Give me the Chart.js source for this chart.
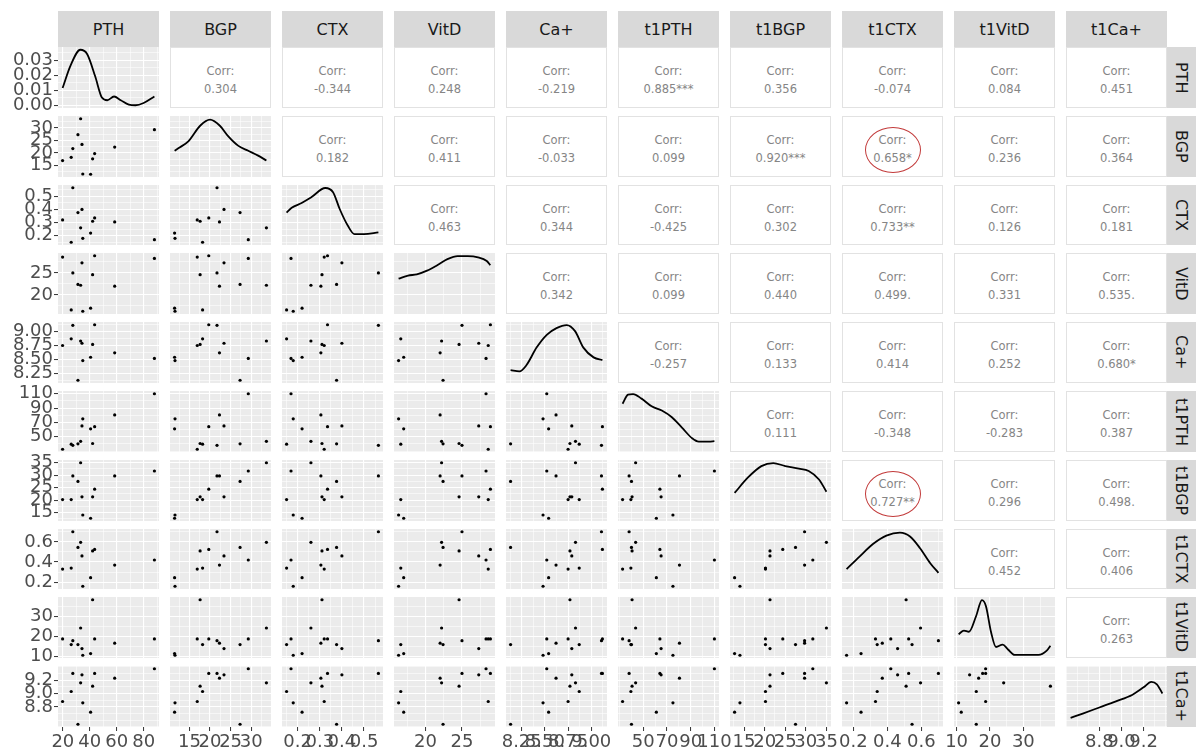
<!DOCTYPE html>
<html>
<head>
<meta charset="utf-8">
<script src="https://cdn.jsdelivr.net/npm/chart.js@4.4.1/dist/chart.umd.min.js"></script>
<style>
body { margin: 0; background: #fff; }
#wrap { position: relative; width: 1196px; height: 751px; overflow: hidden; font-family: "DejaVu Sans", "Liberation Sans", Arial, sans-serif; }
.strip { position: absolute; background: #d9d9d9; color: #1a1a1a; font-size: 16px; display: flex; align-items: center; justify-content: center; }
.strip.side { writing-mode: vertical-rl; }
.corr { position: absolute; background: #fff; border: 1px solid #e2e2e2; box-sizing: border-box; color: #858585; font-size: 11.5px; text-align: center; line-height: 18px; display: flex; flex-direction: column; justify-content: center; padding-top: 5px; }
.ring { position: absolute; border: 1.5px solid #c23a3a; border-radius: 50%; box-sizing: border-box; }
</style>
</head>
<body>
<div id="wrap"></div>
<script>
const FONT = '"DejaVu Sans", "Liberation Sans", Arial, sans-serif';

const varNames = ['PTH', 'BGP', 'CTX', 'VitD', 'Ca+', 't1PTH', 't1BGP', 't1CTX', 't1VitD', 't1Ca+'];

// one value per subject, same subject order in every array
const PTH    = [19.8, 26.2, 27.4, 31.2, 33.2, 34.2, 34.8, 40.6, 42.1, 43.6, 58.5, 88];
const BGP    = [16.9, 18.2, 21.7, 27.3, 33.7, 23.4, 11.5, 11.4, 17.6, 19.7, 22.3, 29.3];
const CTX    = [0.32, 0.15, 0.565, 0.376, 0.26, 0.40, 0.18, 0.22, 0.31, 0.335, 0.305, 0.17];
const VitD   = [28.6, 16.6, 25.0, 22.4, 22.2, 27.3, 16.3, 17.0, 24.6, 28.9, 22.0, 28.3];
const Ca     = [8.75, 8.87, 9.11, 8.13, 8.83, 8.79, 8.48, 8.54, 8.77, 9.12, 8.62, 8.52];
const t1PTH  = [32.5, 39.5, 38, 40, 43.5, 65, 75, 61, 40.5, 64, 80.5, 110];
const t1BGP  = [20.2, 20.2, 29.7, 27.5, 35, 21.3, 14, 12.7, 21.3, 24.4, 29.7, 31.7];
const t1CTX  = [0.33, 0.34, 0.70, 0.545, 0.595, 0.46, 0.16, 0.245, 0.51, 0.525, 0.37, 0.42];
const t1VitD = [18.7, 15.9, 17.8, 15.9, 24.1, 13.9, 10.6, 11.4, 38.1, 18.7, 16.6, 18.7];
const t1Ca   = [8.88, 9.03, 9.3, 8.54, 9.16, 9.28, 8.86, 8.72, 9.11, 9.3, 9.23, 9.37];

// axis breaks and their labels
const tickPTH = [20, 40, 60, 80];          const labPTH = ['20', '40', '60', '80'];
const tickBGP = [15, 20, 25, 30];          const labBGP = ['15', '20', '25', '30'];
const tickCTX = [0.2, 0.3, 0.4, 0.5];      const labCTX = ['0.2', '0.3', '0.4', '0.5'];
const tickVitD = [20, 25];                 const labVitD = ['20', '25'];
const tickCa = [8.25, 8.5, 8.75, 9.0];     const labCa = ['8.25', '8.50', '8.75', '9.00'];
const tickT1PTH = [50, 70, 90, 110];       const labT1PTH = ['50', '70', '90', '110'];
const tickT1BGP = [15, 20, 25, 30, 35];    const labT1BGP = ['15', '20', '25', '30', '35'];
const tickT1CTX = [0.2, 0.4, 0.6];         const labT1CTX = ['0.2', '0.4', '0.6'];
const tickT1VitD = [10, 20, 30];           const labT1VitD = ['10', '20', '30'];
const tickT1Ca = [8.8, 9.0, 9.2];          const labT1Ca = ['8.8', '9.0', '9.2'];
const tickDens = [0, 0.01, 0.02, 0.03];    const labDens = ['0.00', '0.01', '0.02', '0.03'];

// diagonal density curves; PTH in density units, the others as share of panel height
const densPTHx = [19.8, 25.7, 33, 38, 44, 49, 53, 58, 63, 69, 74, 80, 88];
const densPTHy = [0.0116, 0.0265, 0.037, 0.0342, 0.0194, 0.0053, 0.0035, 0.006, 0.0035, 0.0006, 0.0002, 0.0017, 0.006];
const densBGPx = [11.4, 12.3, 14.8, 17.6, 20, 22.4, 24.4, 26.9, 29.3, 31.7, 33.7];
const densBGPy = [0.43, 0.47, 0.59, 0.84, 0.94, 0.84, 0.67, 0.51, 0.43, 0.35, 0.27];
const densCTXx = [0.15, 0.173, 0.218, 0.263, 0.325, 0.36, 0.39, 0.427, 0.457, 0.5, 0.565];
const densCTXy = [0.54, 0.62, 0.70, 0.80, 0.95, 0.88, 0.6, 0.32, 0.18, 0.18, 0.21];
const densVitDx = [16.3, 17.6, 18.8, 20.2, 21.6, 23, 24.4, 25.8, 27.2, 28.4, 28.9];
const densVitDy = [0.58, 0.63, 0.65, 0.71, 0.8, 0.9, 0.95, 0.95, 0.93, 0.87, 0.8];
const densCax = [8.13, 8.225, 8.3, 8.41, 8.52, 8.625, 8.735, 8.825, 8.915, 9.025, 9.12];
const densCay = [0.21, 0.19, 0.29, 0.58, 0.79, 0.9, 0.95, 0.85, 0.58, 0.42, 0.375];
const densT1PTHx = [32.5, 37.1, 41.4, 48.5, 57, 65.6, 74.1, 82.6, 91.2, 96.8, 105.4, 110];
const densT1PTHy = [0.79, 0.94, 0.95, 0.875, 0.75, 0.68, 0.57, 0.4, 0.225, 0.17, 0.17, 0.18];
const densT1BGPx = [12.7, 15.9, 19.2, 22.1, 25, 28.3, 30.7, 33.2, 35];
const densT1BGPy = [0.46, 0.71, 0.9, 0.95, 0.9, 0.86, 0.82, 0.68, 0.48];
const densT1CTXx = [0.16, 0.236, 0.315, 0.394, 0.474, 0.533, 0.592, 0.652, 0.70];
const densT1CTXy = [0.33, 0.54, 0.75, 0.89, 0.94, 0.875, 0.68, 0.43, 0.27];
const densT1VitDx = [10.6, 12.2, 13.7, 15.8, 17.6, 18.8, 20.3, 21.8, 23.8, 25.4, 27.4, 30.9, 34.5, 37, 38.1];
const densT1VitDy = [0.39, 0.45, 0.43, 0.68, 0.95, 0.85, 0.43, 0.18, 0.22, 0.14, 0.05, 0.05, 0.05, 0.12, 0.2];
const densT1Cax = [8.54, 8.65, 8.8, 8.95, 9.1, 9.2, 9.27, 9.32, 9.37];
const densT1Cay = [0.15, 0.22, 0.32, 0.42, 0.53, 0.65, 0.74, 0.7, 0.55];

// upper triangle, row by row (columns to the right of the diagonal)
const corrPTH = ['0.304', '-0.344', '0.248', '-0.219', '0.885***', '0.356', '-0.074', '0.084', '0.451'];
const corrBGP = ['0.182', '0.411', '-0.033', '0.099', '0.920***', '0.658*', '0.236', '0.364'];
const corrCTX = ['0.463', '0.344', '-0.425', '0.302', '0.733**', '0.126', '0.181'];
const corrVitD = ['0.342', '0.099', '0.440', '0.499.', '0.331', '0.535.'];
const corrCa = ['-0.257', '0.133', '0.414', '0.252', '0.680*'];
const corrT1PTH = ['0.111', '-0.348', '-0.283', '0.387'];
const corrT1BGP = ['0.727**', '0.296', '0.498.'];
const corrT1CTX = ['0.452', '0.406'];
const corrT1VitD = ['0.263'];
const circled = [[1, 7], [6, 7]];

const values = [PTH, BGP, CTX, VitD, Ca, t1PTH, t1BGP, t1CTX, t1VitD, t1Ca];
const ticks = [tickPTH, tickBGP, tickCTX, tickVitD, tickCa, tickT1PTH, tickT1BGP, tickT1CTX, tickT1VitD, tickT1Ca];
const labels = [labPTH, labBGP, labCTX, labVitD, labCa, labT1PTH, labT1BGP, labT1CTX, labT1VitD, labT1Ca];
const densX = [densPTHx, densBGPx, densCTXx, densVitDx, densCax, densT1PTHx, densT1BGPx, densT1CTXx, densT1VitDx, densT1Cax];
const densY = [densPTHy, densBGPy, densCTXy, densVitDy, densCay, densT1PTHy, densT1BGPy, densT1CTXy, densT1VitDy, densT1Cay];
const corrRows = [corrPTH, corrBGP, corrCTX, corrVitD, corrCa, corrT1PTH, corrT1BGP, corrT1CTX, corrT1VitD];

// layout
const X0 = 58, PITCH_X = 112, PW = 101;
const Y0 = 47, PITCH_Y = 68.8, PH = 60.8;
const colX = i => Math.round(X0 + i * PITCH_X);
const rowY = i => Math.round(Y0 + i * PITCH_Y);
const rowB = i => Math.round(Y0 + i * PITCH_Y + PH);

function expand(arr) {
  const lo = Math.min(...arr), hi = Math.max(...arr), d = (hi - lo) * 0.05;
  return [lo - d, hi + d];
}
const ranges = values.map(expand);
const densRange = expand(densPTHy);

function gridValues(major, range) {
  const step = (major[1] - major[0]) / 2;
  const out = [];
  let k = Math.ceil((range[0] - major[0]) / step - 1e-9);
  for (;; k++) {
    const v = +(major[0] + k * step).toFixed(6);
    if (v > range[1]) break;
    out.push(v);
  }
  return out;
}

function axisCfg(major, labs, range, pos, show, size) {
  const idx = v => major.findIndex(m => Math.abs(m - v) < 1e-6);
  const vals = gridValues(major, range);
  return {
    type: 'linear',
    position: pos,
    min: range[0],
    max: range[1],
    afterBuildTicks: s => { s.ticks = vals.map(v => ({ value: v })); },
    afterFit: s => {
      if (pos === 'left') s.width = size; else s.height = size;
      s.paddingLeft = 0; s.paddingRight = 0; s.paddingTop = 0; s.paddingBottom = 0;
    },
    border: { display: false },
    grid: {
      color: '#ffffff',
      lineWidth: c => (c.tick && idx(c.tick.value) >= 0) ? 1.1 : 0.55,
      drawTicks: show,
      tickLength: 4,
      tickWidth: 1,
      tickColor: c => (c.tick && idx(c.tick.value) >= 0) ? '#333333' : 'rgba(0,0,0,0)'
    },
    ticks: {
      display: show,
      autoSkip: false,
      maxRotation: 0,
      minRotation: 0,
      padding: 1,
      color: '#4d4d4d',
      font: { family: FONT, size: 18 },
      callback: v => { const i = idx(v); return i >= 0 ? labs[i] : ''; }
    }
  };
}

const panelBg = {
  id: 'panelBg',
  beforeDraw(chart) {
    const a = chart.chartArea, ctx = chart.ctx;
    ctx.save();
    ctx.fillStyle = '#ebebeb';
    ctx.fillRect(a.left, a.top, a.right - a.left, a.bottom - a.top);
    ctx.restore();
  }
};

const wrap = document.getElementById('wrap');

function drawPanel(r, c) {
  // extra room round the panel so edge tick labels are not cut off
  const padT = c === 0 ? 12 : 0;
  const padB = (c === 0 && r !== 9) ? 12 : 0;
  const padL = (r === 9 && c !== 0) ? 14 : 0;
  const padR = r === 9 ? 14 : 0;
  const left = (c === 0 ? 0 : colX(c)) - padL;
  const top = rowY(r) - padT;
  const w = colX(c) + PW + padR - left;
  const bottom = r === 9 ? 751 : rowB(r) + padB;
  const h = bottom - top;
  const cv = document.createElement('canvas');
  cv.width = w; cv.height = h;
  cv.style.cssText = `position:absolute;left:${left}px;top:${top}px;width:${w}px;height:${h}px`;
  wrap.appendChild(cv);

  const scales = {
    x: axisCfg(ticks[c], labels[c], ranges[c], 'bottom', r === 9, r === 9 ? 751 - rowB(9) : 0)
  };
  let datasets;
  if (r === c) {
    const pts = densX[c].map((x, i) => ({ x: x, y: densY[c][i] }));
    if (r === 0) {
      scales.y = axisCfg(tickDens, labDens, densRange, 'left', true, colX(0));
    } else {
      scales.y = axisCfg(ticks[r], labels[r], ranges[r], 'left', c === 0, c === 0 ? colX(0) : 0);
      scales.yd = { type: 'linear', display: false, min: 0, max: 1 };
    }
    datasets = [{
      data: pts,
      yAxisID: r === 0 ? 'y' : 'yd',
      showLine: true,
      pointRadius: 0,
      borderColor: '#000000',
      borderWidth: 1.8,
      cubicInterpolationMode: 'monotone'
    }];
  } else {
    scales.y = axisCfg(ticks[r], labels[r], ranges[r], 'left', c === 0, c === 0 ? colX(0) : 0);
    datasets = [{
      data: values[c].map((x, i) => ({ x: x, y: values[r][i] })),
      pointRadius: 1.6,
      backgroundColor: '#000000',
      borderWidth: 0
    }];
  }

  new Chart(cv.getContext('2d'), {
    type: 'scatter',
    data: { datasets: datasets },
    options: {
      responsive: false,
      animation: false,
      events: [],
      layout: { padding: { left: padL, right: padR, top: padT, bottom: padB }, autoPadding: false },
      plugins: { legend: { display: false }, tooltip: { enabled: false } },
      scales: scales
    },
    plugins: [panelBg]
  });
}

function drawCorr(r, c) {
  const d = document.createElement('div');
  d.className = 'corr';
  d.style.left = colX(c) + 'px';
  d.style.top = rowY(r) + 'px';
  d.style.width = PW + 'px';
  d.style.height = (rowB(r) - rowY(r)) + 'px';
  d.innerHTML = '<div>Corr:</div><div>' + corrRows[r][c - r - 1] + '</div>';
  wrap.appendChild(d);
}

for (let r = 0; r < 10; r++) {
  for (let c = 0; c < 10; c++) {
    if (r < c) drawCorr(r, c); else drawPanel(r, c);
  }
}

circled.forEach(([r, c]) => {
  const d = document.createElement('div');
  d.className = 'ring';
  const cx = colX(c) + PW / 2, cy = (rowY(r) + rowB(r)) / 2 + 3;
  d.style.left = (cx - 28) + 'px';
  d.style.top = (cy - 23) + 'px';
  d.style.width = '56px';
  d.style.height = '46px';
  wrap.appendChild(d);
});

// facet strips
varNames.forEach((name, i) => {
  const t = document.createElement('div');
  t.className = 'strip';
  t.textContent = name;
  t.style.left = colX(i) + 'px';
  t.style.top = '11px';
  t.style.width = PW + 'px';
  t.style.height = (Y0 - 11) + 'px';
  wrap.appendChild(t);

  const s = document.createElement('div');
  s.className = 'strip side';
  s.textContent = name;
  s.style.left = (colX(9) + PW) + 'px';
  s.style.top = rowY(i) + 'px';
  s.style.width = (1196 - colX(9) - PW) + 'px';
  s.style.height = (rowB(i) - rowY(i)) + 'px';
  wrap.appendChild(s);
});
</script>
</body>
</html>
